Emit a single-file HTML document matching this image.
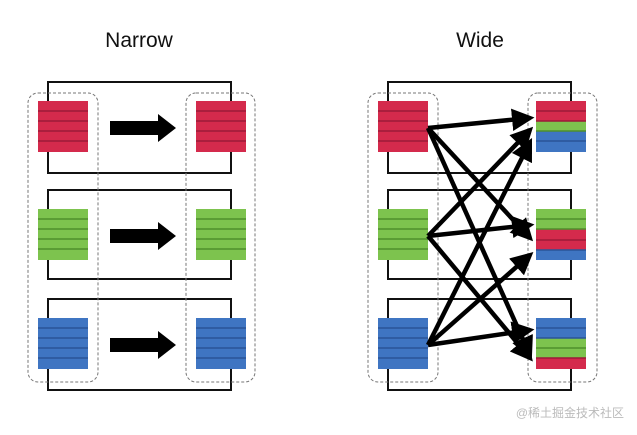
<!DOCTYPE html>
<html><head><meta charset="utf-8"><style>
html,body{margin:0;padding:0;background:#fff;}
svg{display:block}
</style></head><body>
<svg width="637" height="435" viewBox="0 0 637 435" xmlns="http://www.w3.org/2000/svg">
<defs>
<marker id="ah" markerWidth="5" markerHeight="5" refX="4" refY="2.5" orient="auto" markerUnits="strokeWidth">
<path d="M0,0 L5,2.5 L0,5 z" fill="#000"/>
</marker>
<g id="sR"><rect width="50" height="51" fill="#d42a4c"/></g>
</defs>
<text x="139" y="47" font-family="Liberation Sans, sans-serif" font-size="21" text-anchor="middle" fill="#111">Narrow</text>
<text x="480" y="47" font-family="Liberation Sans, sans-serif" font-size="21" text-anchor="middle" fill="#111">Wide</text>

<g fill="none" stroke="#111" stroke-width="2">
<rect x="48" y="82" width="183" height="91"/>
<rect x="48" y="190" width="183" height="89"/>
<rect x="48" y="299" width="183" height="91"/>
<rect x="388" y="82" width="183" height="91"/>
<rect x="388" y="190" width="183" height="89"/>
<rect x="388" y="299" width="183" height="91"/>
</g>
<g fill="none" stroke="#777" stroke-width="1" stroke-dasharray="3,2">
<rect x="28" y="93" width="70" height="289" rx="10"/>
<rect x="186" y="93" width="69" height="289" rx="10"/>
<rect x="368" y="93" width="70" height="289" rx="10"/>
<rect x="528" y="93" width="69" height="289" rx="10"/>
</g>

<!-- blocks: function-like manual stripes -->
<g stroke-width="1.5">
<!-- Narrow left -->
<rect x="38" y="101" width="50" height="51" fill="#d42a4c"/>
<rect x="38" y="209" width="50" height="51" fill="#7dc34e"/>
<rect x="38" y="318" width="50" height="51" fill="#3f75c2"/>
<rect x="196" y="101" width="50" height="51" fill="#d42a4c"/>
<rect x="196" y="209" width="50" height="51" fill="#7dc34e"/>
<rect x="196" y="318" width="50" height="51" fill="#3f75c2"/>
<rect x="378" y="101" width="50" height="51" fill="#d42a4c"/>
<rect x="378" y="209" width="50" height="51" fill="#7dc34e"/>
<rect x="378" y="318" width="50" height="51" fill="#3f75c2"/>
<!-- Wide right mixed -->
<rect x="536" y="101" width="50" height="20" fill="#d42a4c"/>
<rect x="536" y="121" width="50" height="10" fill="#7dc34e"/>
<rect x="536" y="131" width="50" height="21" fill="#3f75c2"/>
<rect x="536" y="209" width="50" height="20" fill="#7dc34e"/>
<rect x="536" y="229" width="50" height="21" fill="#d42a4c"/>
<rect x="536" y="250" width="50" height="10" fill="#3f75c2"/>
<rect x="536" y="318" width="50" height="20" fill="#3f75c2"/>
<rect x="536" y="338" width="50" height="20" fill="#7dc34e"/>
<rect x="536" y="358" width="50" height="11" fill="#d42a4c"/>
</g>
<!-- stripe lines -->
<g stroke-width="1.5">
<g stroke="#9c1b38">
<path d="M38 111h50M38 121h50M38 131h50M38 141h50M196 111h50M196 121h50M196 131h50M196 141h50M378 111h50M378 121h50M378 131h50M378 141h50M536 111h50M536 121h50M536 240h50M536 358h50"/>
</g>
<g stroke="#4f8f2c">
<path d="M38 219h50M38 229h50M38 239h50M38 249h50M196 219h50M196 229h50M196 239h50M196 249h50M378 219h50M378 229h50M378 239h50M378 249h50M536 131h50M536 219h50M536 229h50M536 348h50"/>
</g>
<g stroke="#2a5598">
<path d="M38 328h50M38 338h50M38 348h50M38 358h50M196 328h50M196 338h50M196 348h50M196 358h50M378 328h50M378 338h50M378 348h50M378 358h50M536 141h50M536 250h50M536 328h50M536 338h50"/>
</g>
</g>

<!-- narrow arrows -->
<g fill="#000">
<path d="M110 121h48v-7l18 14-18 14v-7h-48z"/>
<path d="M110 229h48v-7l18 14-18 14v-7h-48z"/>
<path d="M110 338h48v-7l18 14-18 14v-7h-48z"/>
</g>

<!-- wide arrows -->
<g stroke="#000" stroke-width="4.5" fill="none" marker-end="url(#ah)">
<line x1="428" y1="128" x2="530" y2="118"/>
<line x1="428" y1="128" x2="530" y2="238"/>
<line x1="428" y1="128" x2="530" y2="355"/>
<line x1="428" y1="236" x2="530" y2="130"/>
<line x1="428" y1="236" x2="530" y2="225"/>
<line x1="428" y1="236" x2="530" y2="358"/>
<line x1="428" y1="345" x2="530" y2="142"/>
<line x1="428" y1="345" x2="530" y2="255"/>
<line x1="428" y1="345" x2="530" y2="330"/>
</g>

<text x="624" y="417" font-family="Liberation Sans, Noto Sans CJK SC, sans-serif" font-size="12" text-anchor="end" fill="#bbb">@稀土掘金技术社区</text>
</svg>
</body></html>
